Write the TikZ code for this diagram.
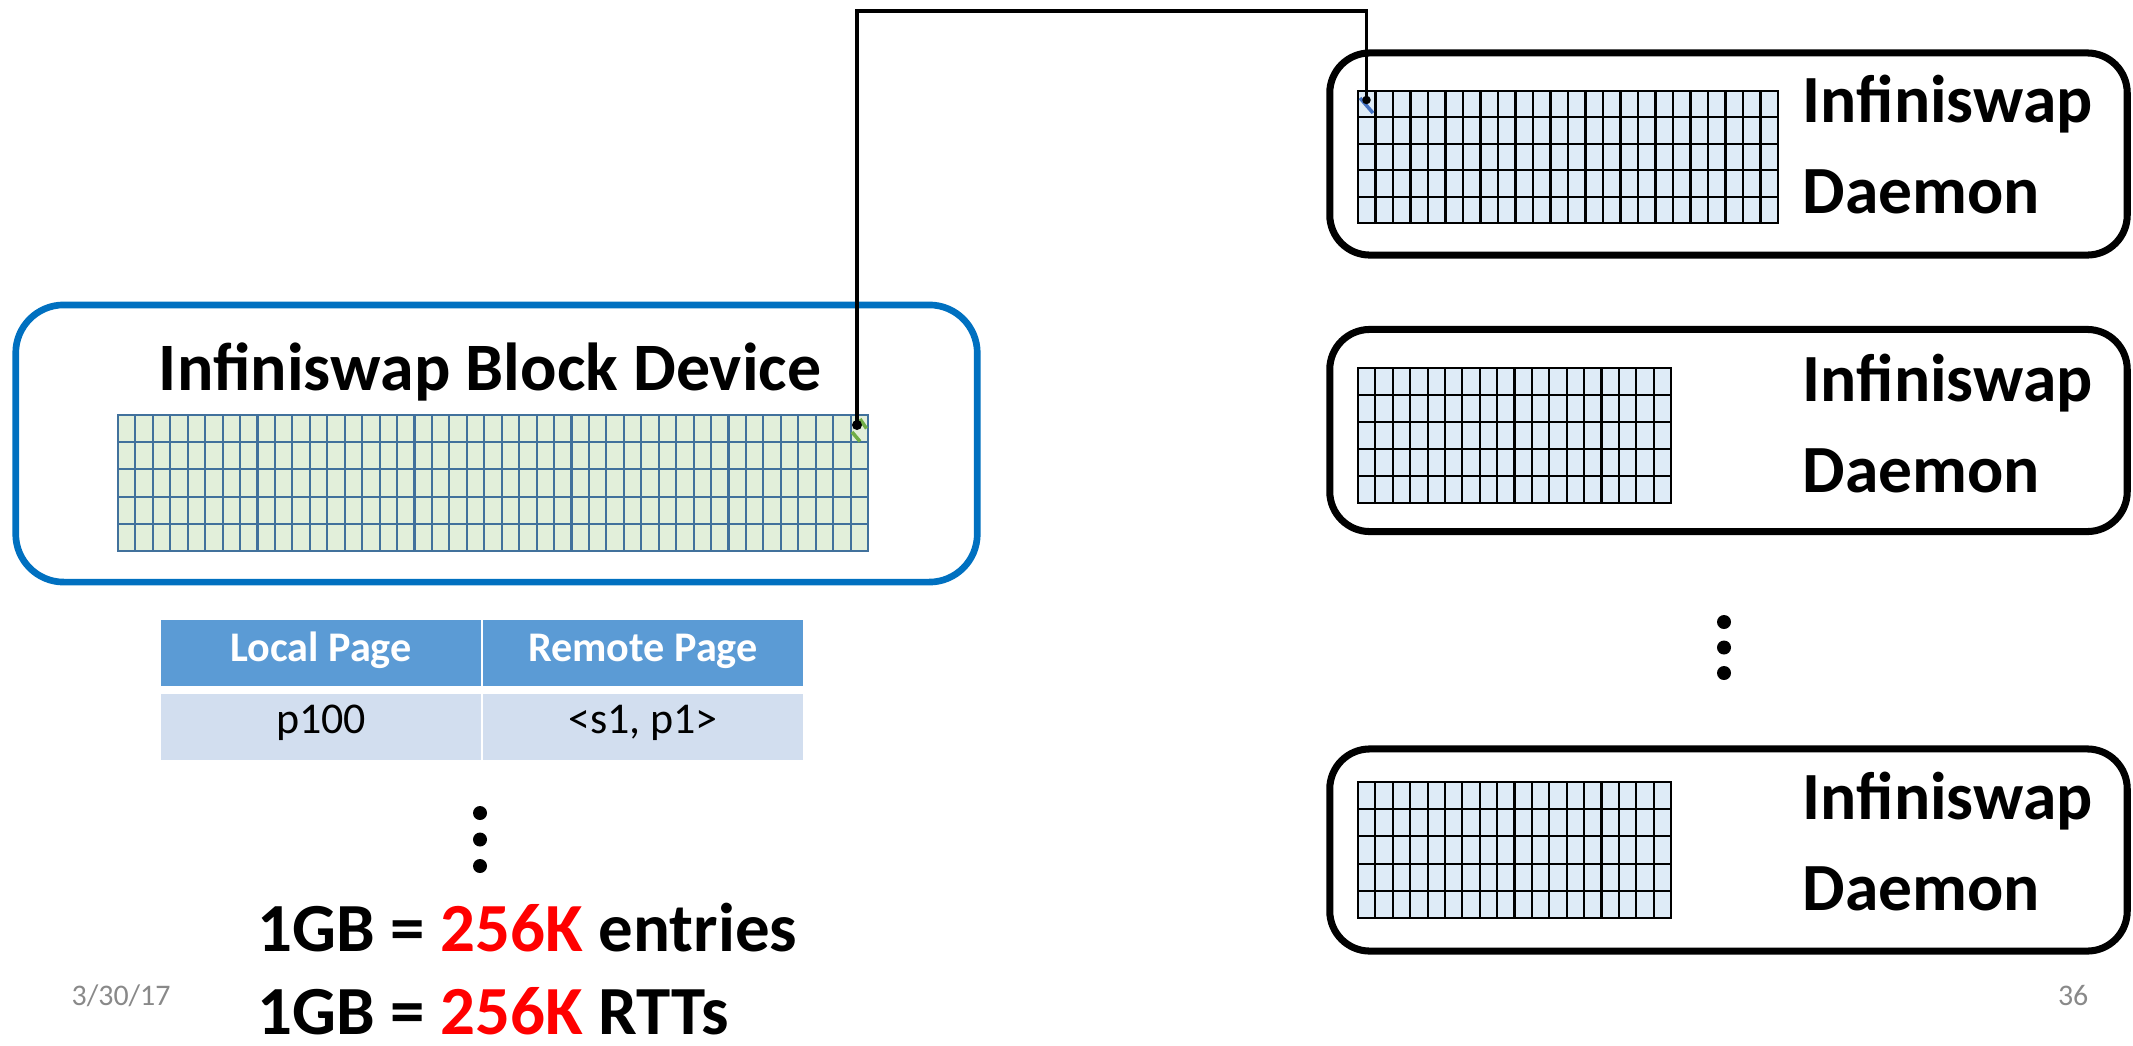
\documentclass[tikz,border=0pt]{standalone}
\usepackage{fontspec}
\setmainfont{Carlito}
\usetikzlibrary{positioning,calc}

\definecolor{devblue}{HTML}{0070C0}
\definecolor{gridblue}{HTML}{41719C}
\definecolor{cellgreen}{HTML}{E2EFDA}
\definecolor{cellblue}{HTML}{DEEBF7}
\definecolor{hdrblue}{HTML}{5B9BD5}
\definecolor{rowblue}{HTML}{D2DEEF}
\definecolor{dategray}{HTML}{898989}
\definecolor{markgreen}{HTML}{70AD47}
\definecolor{markblue}{HTML}{4472C4}

% page grid: x0, y0, x1, y1, columns, style (5 rows)
\newcommand{\pagegrid}[6]{%
  \path[#6] (#1,#2) rectangle (#3,#4);
  \foreach \c in {0,...,#5}
    \draw[#6] ({#1+(#3-#1)/#5*\c},#2) -- ({#1+(#3-#1)/#5*\c},#4);
  \foreach \r in {0,...,5}
    \draw[#6] (#1,{#2+(#4-#2)/5*\r}) -- (#3,{#2+(#4-#2)/5*\r});
}

\begin{document}
\begin{tikzpicture}[x=0.01cm, y=-0.01cm,
    devbox/.style={draw=devblue, line width=1.9pt, rounded corners=0.48cm,
      minimum width=9.61cm, minimum height=2.77cm, inner sep=0pt},
    daemonbox/.style={draw=black, line width=2pt, rounded corners=0.4cm,
      minimum width=7.97cm, minimum height=2.02cm, inner sep=0pt},
    greengrid/.style={draw=gridblue, fill=cellgreen, line width=0.6pt},
    bluegrid/.style={draw=black, fill=cellblue, line width=0.6pt},
    titletext/.style={font=\fontsize{19.3pt}{23pt}\selectfont\bfseries, inner sep=0pt},
    dlabel/.style={font=\fontsize{19.2pt}{25.6pt}\selectfont\bfseries, align=left, inner sep=0pt},
    hdrcell/.style={fill=hdrblue, text=white, font=\fontsize{12pt}{14pt}\selectfont\bfseries,
      minimum width=3.2cm, minimum height=0.66cm, inner sep=0pt,
      text height=0.65em, text depth=0.18em},
    rowcell/.style={fill=rowblue, font=\fontsize{12.5pt}{15pt}\selectfont,
      minimum width=3.2cm, minimum height=0.66cm, inner sep=0pt,
      text height=0.65em, text depth=0.3em},
    sumtext/.style={font=\fontsize{19.6pt}{23pt}\selectfont\bfseries, inner sep=0pt},
    foot/.style={font=\fontsize{8.5pt}{10pt}\selectfont, text=dategray, inner sep=0pt},
    pagedot/.style={circle, fill=black, inner sep=0pt, minimum size=#1},
    link/.style={line width=1.1pt, black}]
    \useasboundingbox (0,0) rectangle (2133,1045);

    % Block device
    \node[devbox] (bdev) at (496.5,443.5) {};
    \node[titletext, anchor=base] (bdtitle) at (490,390) {Infiniswap Block Device};
    \pagegrid{118}{415}{868}{551}{43}{greengrid}
    \draw[markgreen, line width=1pt] (860,419) -- (866.5,428.5);
    \draw[markgreen, line width=1pt] (852,432) -- (860,441.5);

    % Daemons
    \node[daemonbox] (dmn1) at (1728.5,154) {};
    \node[daemonbox] (dmn2) at (1728.5,430.5) {};
    \node[daemonbox] (dmn3) at (1728.5,850) {};
    \pagegrid{1358}{91}{1778}{223}{24}{bluegrid}
    \pagegrid{1358}{368}{1671}{503}{18}{bluegrid}
    \pagegrid{1358}{782}{1671}{918}{18}{bluegrid}
    \draw[markblue, line width=1pt] (1360,98) -- (1373,113);
    % base = last line
    \node[dlabel, anchor=base west] (dtxt1) at (1802,213) {Infiniswap\\Daemon};
    \node[dlabel, anchor=base west] (dtxt2) at (1802,492) {Infiniswap\\Daemon};
    \node[dlabel, anchor=base west] (dtxt3) at (1802,910) {Infiniswap\\Daemon};
    \foreach \k in {0,1,2}
      \fill (1724,{622+25.5*\k}) circle (7);

    % Mapping from local page to remote page
    \node[pagedot=0.1cm] (src) at (857,425) {};
    \node[pagedot=0.085cm] (dst) at (1366.5,100) {};
    \coordinate (top) at (0,11);
    \draw[link] (src.center) |- (top -| dst.center) -- (dst.center);

    % Table
    \node[hdrcell] (hlocal) at (321,653) {Local Page};
    \node[hdrcell] (hremote) at (643,653) {Remote Page};
    \node[rowcell] (rlocal) at (321,727) {p100};
    \node[rowcell] (rremote) at (643,727) {<s1, p1>};
    \foreach \k in {0,1,2}
      \fill (480,{813+26.5*\k}) circle (7);

    \node[sumtext, anchor=base west] (sum1) at (257,951) {1GB = {\color{red}256K} entries};
    \node[sumtext, anchor=base west] (sum2) at (257,1034) {1GB = {\color{red}256K} RTTs};

    % Footer
    \node[foot, anchor=base west] (date) at (71,1005) {3/30/17};
    \node[foot, anchor=base east] (pgno) at (2089,1005) {36};
\end{tikzpicture}
\end{document}
